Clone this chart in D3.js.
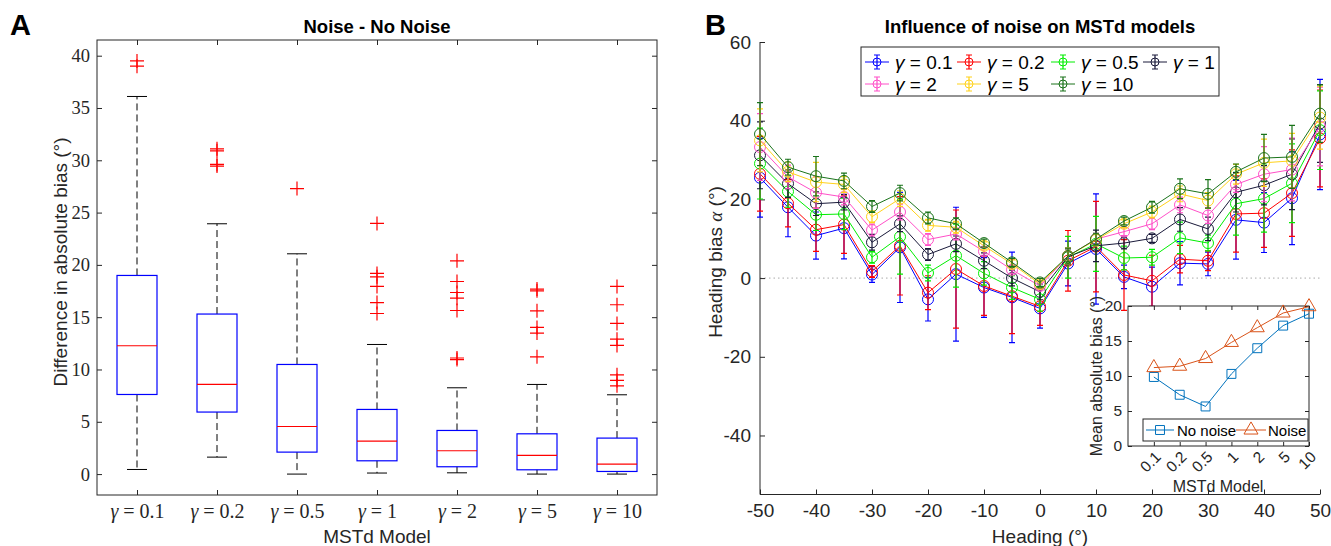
<!DOCTYPE html>
<html>
<head>
<meta charset="utf-8">
<script src="https://cdn.jsdelivr.net/npm/d3@7"></script>
<style>
body{margin:0;background:#fff;}
svg{display:block;font-family:"Liberation Sans",Arial,sans-serif;}
</style>
</head>
<body>
<svg id="chart" width="1331" height="546"></svg>
<script>
// ---- panel A data: box plot stats (noise - no noise)
const models = ["0.1", "0.2", "0.5", "1", "2", "5", "10"];
const boxQ1 = [7.61, 5.93, 2.10, 1.27, 0.70, 0.41, 0.25];
const boxMedian = [12.27, 8.57, 4.55, 3.15, 2.23, 1.78, 0.96];
const boxQ3 = [18.99, 15.30, 10.48, 6.18, 4.17, 3.85, 3.44];
const whiskerLow = [0.44, 1.62, 0.00, 0.10, 0.12, 0.00, 0.00];
const whiskerHigh = [36.10, 23.93, 21.06, 12.39, 8.25, 8.57, 7.58];
const outliers = [
    [39.5, 39.0],
    [31.1, 30.9, 29.6, 29.45],
    [27.3],
    [23.96, 19.18, 18.86, 17.94, 16.4, 15.35],
    [20.39, 18.41, 17.36, 16.82, 15.64, 11.1, 10.95],
    [17.69, 17.52, 15.61, 14.02, 13.48, 11.21],
    [17.94, 16.19, 14.4, 12.9, 12.3, 9.49, 8.95, 8.44]
];
const yTicksA = [0, 5, 10, 15, 20, 25, 30, 35, 40];

// ---- panel B data: heading bias per model
const headings = [-50, -45, -40, -35, -30, -25, -20, -15, -10, -5, 0, 5, 10, 15, 20, 25, 30, 35, 40, 45, 50];
const biasG01 = [25.5, 18.0, 10.8, 12.7, 0.9, 7.8, -5.4, 1.0, -2.4, -4.9, -7.7, 3.7, 7.4, 0.3, -2.2, 3.8, 3.6, 14.8, 14.1, 20.3, 36.5];
const biasG02 = [26.5, 19.0, 12.3, 13.6, 1.7, 8.2, -3.7, 2.3, -2.0, -4.6, -7.2, 4.4, 8.0, 0.8, -0.7, 4.8, 4.4, 16.3, 16.5, 21.6, 35.5];
const biasG05 = [29.1, 22.0, 16.1, 16.3, 5.3, 10.5, 1.3, 5.7, 1.2, -2.4, -5.4, 5.3, 8.7, 5.1, 5.3, 10.2, 8.9, 18.9, 20.2, 24.1, 37.6];
const biasG1 = [31.2, 24.0, 18.9, 19.3, 9.1, 13.8, 6.0, 8.7, 4.4, 0.0, -3.5, 5.4, 8.2, 8.9, 10.1, 14.9, 12.5, 21.8, 23.6, 26.4, 39.3];
const biasG2 = [33.3, 25.7, 21.7, 20.6, 12.2, 16.8, 9.8, 11.2, 6.8, 2.1, -2.0, 5.6, 9.9, 11.8, 13.8, 18.6, 15.9, 23.8, 26.4, 27.6, 38.5];
const biasG5 = [35.0, 27.0, 24.4, 23.8, 15.6, 20.2, 13.4, 12.9, 8.2, 3.6, -1.5, 5.6, 9.7, 13.8, 16.8, 21.4, 19.7, 26.4, 29.3, 29.8, 40.8];
const biasG10 = [36.6, 28.2, 25.9, 24.7, 18.2, 21.6, 15.3, 13.8, 8.9, 4.0, -1.1, 5.6, 9.9, 14.5, 18.0, 22.7, 21.4, 27.0, 30.5, 30.8, 41.8];
const errG01 = [10, 7.5, 6, 7.8, 2, 14, 5.5, 17, 7.6, 11.5, 5, 5.7, 14, 3, 5, 5.5, 3, 10, 7.6, 11.8, 14];
const errG02 = [9.5, 6, 5.5, 7.3, 1.5, 12.5, 4.3, 15, 7.5, 9.5, 4.8, 7.7, 11.5, 9, 6.5, 3.5, 2.5, 9.7, 8.7, 11, 12.3];
const errG05 = [9, 4, 4, 4, 1.5, 9.5, 2, 8, 3, 3, 3, 5.3, 7, 3, 2, 4, 2, 8, 8.5, 10, 10];
const errG1 = [8.5, 3.5, 3, 2, 2, 2, 1.5, 2, 2, 2, 2, 2, 4, 1.5, 1, 3, 3, 5, 5, 9, 9.9];
const errG2 = [8.5, 3, 4, 2, 1.5, 2, 1.5, 1.5, 1, 1, 1, 2, 1.5, 1, 1.5, 2, 2, 2, 7, 8, 10];
const errG5 = [8, 2.5, 5, 2, 1.5, 2, 1.5, 1.5, 1, 1, 1, 2, 1.5, 1, 1.5, 2, 2, 2.5, 6, 7, 8];
const errG10 = [8, 2, 5, 2, 1.5, 2, 1.5, 1.5, 1, 1, 1, 2, 1.5, 1, 1.5, 2.5, 3.6, 2, 6, 8, 7.3];
const xTicksB = [-50, -40, -30, -20, -10, 0, 10, 20, 30, 40, 50];
const yTicksB = [-40, -20, 0, 20, 40, 60];

// ---- inset data: mean absolute bias
const meanNoNoise = [9.86, 7.32, 5.65, 10.3, 13.97, 17.2, 18.9];
const meanNoise = [11.2, 11.4, 12.5, 14.8, 16.9, 19.0, 19.9];
const yTicksInset = [0, 5, 10, 15, 20];

const series = [
    { label: "0.1", color: "#0000ff", bias: biasG01, err: errG01 },
    { label: "0.2", color: "#ff0000", bias: biasG02, err: errG02 },
    { label: "0.5", color: "#00ee00", bias: biasG05, err: errG05 },
    { label: "1", color: "#1a1a3a", bias: biasG1, err: errG1 },
    { label: "2", color: "#ff4fc8", bias: biasG2, err: errG2 },
    { label: "5", color: "#ffd21a", bias: biasG5, err: errG5 },
    { label: "10", color: "#1a731a", bias: biasG10, err: errG10 }
];

const axisColor = "#262626";
const sans = '"Liberation Sans",Arial,sans-serif';
const serif = '"Liberation Serif","DejaVu Serif",serif';
const svg = d3.select("#chart");

function styleAxis(g, fontSize, family) {
    g.select(".domain").remove();
    g.selectAll(".tick line").attr("stroke", axisColor);
    g.selectAll(".tick text").attr("fill", axisColor)
        .style("font-size", fontSize + "px")
        .style("font-family", family);
}

// ================= Panel A =================
const xA = d3.scaleLinear().domain([0.5, 7.5]).range([97, 657]);
const yA = d3.scaleLinear().domain([-2, 41.5]).range([495, 40]);

const gA = svg.append("g");

gA.append("g").attr("transform", "translate(97,0)")
    .call(d3.axisLeft(yA).tickValues(yTicksA).tickSizeInner(-5).tickSizeOuter(0).tickPadding(7))
    .call(g => styleAxis(g, 18.5, serif));
gA.append("g").attr("transform", "translate(657,0)")
    .call(d3.axisRight(yA).tickValues(yTicksA).tickSizeInner(-5).tickSizeOuter(0).tickFormat(""))
    .call(g => styleAxis(g, 18, serif));
gA.append("g").attr("transform", "translate(0,40)")
    .call(d3.axisTop(xA).tickValues(d3.range(1, 8)).tickSizeInner(-5).tickSizeOuter(0).tickFormat(""))
    .call(g => styleAxis(g, 18, serif));
const xAxisA = gA.append("g").attr("transform", "translate(0,495)")
    .call(d3.axisBottom(xA).tickValues(d3.range(1, 8)).tickSizeInner(-5).tickSizeOuter(0).tickFormat(""))
    .call(g => styleAxis(g, 18, serif));
xAxisA.selectAll(".tick").append("text")
    .attr("y", 23).attr("text-anchor", "middle")
    .attr("fill", axisColor)
    .style("font-family", serif).style("font-size", "20px")
    .each(function (d) {
        const t = d3.select(this);
        t.append("tspan").style("font-style", "italic").text("γ");
        t.append("tspan").text(" = " + models[d - 1]);
    });

gA.append("rect").attr("x", 97).attr("y", 40).attr("width", 560).attr("height", 455)
    .attr("fill", "none").attr("stroke", axisColor).attr("stroke-width", 1);

models.forEach((m, i) => {
    const cx = xA(i + 1);
    const half = 20, cap = 10;
    // whiskers
    gA.append("line").attr("x1", cx).attr("x2", cx)
        .attr("y1", yA(boxQ3[i])).attr("y2", yA(whiskerHigh[i]))
        .attr("stroke", "#000").attr("stroke-dasharray", "7,4");
    gA.append("line").attr("x1", cx).attr("x2", cx)
        .attr("y1", yA(boxQ1[i])).attr("y2", yA(whiskerLow[i]))
        .attr("stroke", "#000").attr("stroke-dasharray", "7,4");
    [whiskerHigh[i], whiskerLow[i]].forEach(v => {
        gA.append("line").attr("x1", cx - cap).attr("x2", cx + cap)
            .attr("y1", yA(v)).attr("y2", yA(v)).attr("stroke", "#000");
    });
    // box
    gA.append("rect").attr("x", cx - half).attr("width", 2 * half)
        .attr("y", yA(boxQ3[i])).attr("height", yA(boxQ1[i]) - yA(boxQ3[i]))
        .attr("fill", "none").attr("stroke", "#0000ff").attr("stroke-width", 1.2);
    gA.append("line").attr("x1", cx - half).attr("x2", cx + half)
        .attr("y1", yA(boxMedian[i])).attr("y2", yA(boxMedian[i]))
        .attr("stroke", "#ff0000").attr("stroke-width", 1.2);
    // outliers
    outliers[i].forEach(v => {
        const y = yA(v);
        gA.append("path").attr("d", `M${cx - 7},${y}H${cx + 7}M${cx},${y - 7}V${y + 7}`)
            .attr("stroke", "#ff0000").attr("stroke-width", 1.2).attr("fill", "none");
    });
});

gA.append("text").attr("x", 377).attr("y", 33).attr("text-anchor", "middle")
    .style("font-weight", "bold").style("font-size", "18.5px").attr("fill", "#000")
    .text("Noise - No Noise");
gA.append("text").attr("x", 377).attr("y", 543).attr("text-anchor", "middle")
    .style("font-size", "19px").attr("fill", axisColor).text("MSTd Model");
gA.append("text").attr("transform", "translate(67,262) rotate(-90)").attr("text-anchor", "middle")
    .style("font-size", "19px").attr("fill", axisColor).text("Difference in absolute bias (°)");
svg.append("text").attr("x", 10).attr("y", 35).style("font-weight", "bold")
    .style("font-size", "29px").text("A");

// ================= Panel B =================
const xB = d3.scaleLinear().domain([-50, 50]).range([760, 1320]);
const yB = d3.scaleLinear().domain([-55, 60]).range([494.5, 42]);
const gB = svg.append("g");

gB.append("line").attr("x1", xB(-50)).attr("x2", xB(50)).attr("y1", yB(0)).attr("y2", yB(0))
    .attr("stroke", "#aaaaaa").attr("stroke-dasharray", "1.5,3");

gB.append("g").attr("transform", "translate(760,0)")
    .call(d3.axisLeft(yB).tickValues(yTicksB).tickSizeInner(-5).tickSizeOuter(0).tickPadding(9)
        .tickFormat(d => String(d)))
    .call(g => styleAxis(g, 19, sans));
gB.append("g").attr("transform", "translate(0,494.5)")
    .call(d3.axisBottom(xB).tickValues(xTicksB).tickSizeInner(-5).tickSizeOuter(0).tickPadding(9)
        .tickFormat(d => String(d)))
    .call(g => styleAxis(g, 19, sans));
gB.append("line").attr("x1", 760).attr("x2", 760).attr("y1", 42).attr("y2", 494.5).attr("stroke", axisColor);
gB.append("line").attr("x1", 760).attr("x2", 1320).attr("y1", 494.5).attr("y2", 494.5).attr("stroke", axisColor);

const lineB = d3.line().x((d, i) => xB(headings[i])).y(d => yB(d));
series.forEach(s => {
    const g = gB.append("g");
    s.bias.forEach((v, i) => {
        const x = xB(headings[i]);
        const lo = yB(v - s.err[i]), hi = yB(v + s.err[i]);
        g.append("path").attr("d", `M${x},${lo}V${hi}M${x - 3},${lo}H${x + 3}M${x - 3},${hi}H${x + 3}`)
            .attr("stroke", s.color).attr("stroke-width", 1.2).attr("fill", "none");
    });
    g.append("path").datum(s.bias).attr("d", lineB)
        .attr("fill", "none").attr("stroke", s.color).attr("stroke-width", 1);
    g.selectAll("circle").data(s.bias).enter().append("circle")
        .attr("cx", (d, i) => xB(headings[i])).attr("cy", d => yB(d)).attr("r", 5.5)
        .attr("fill", "none").attr("stroke", s.color).attr("stroke-width", 1);
});

gB.append("text").attr("x", 1040).attr("y", 33).attr("text-anchor", "middle")
    .style("font-weight", "bold").style("font-size", "18.5px").text("Influence of noise on MSTd models");
gB.append("text").attr("x", 1040).attr("y", 543).attr("text-anchor", "middle")
    .style("font-size", "19px").attr("fill", axisColor).text("Heading (°)");
const yLabB = gB.append("text").attr("transform", "translate(722,262) rotate(-90)").attr("text-anchor", "middle")
    .style("font-size", "19px").attr("fill", axisColor);
yLabB.append("tspan").text("Heading bias ");
yLabB.append("tspan").style("font-family", serif).style("font-style", "italic").text("α");
yLabB.append("tspan").text(" (°)");
svg.append("text").attr("x", 705).attr("y", 35).style("font-weight", "bold")
    .style("font-size", "29px").text("B");

// legend B
const legB = gB.append("g");
legB.append("rect").attr("x", 861).attr("y", 47).attr("width", 358).attr("height", 49)
    .attr("fill", "#fff").attr("stroke", axisColor);
const legCols = [865, 957, 1051, 1143];
series.forEach((s, i) => {
    const x0 = legCols[i % 4], y0 = i < 4 ? 62 : 84;
    const cx = x0 + 12;
    legB.append("line").attr("x1", x0).attr("x2", x0 + 24).attr("y1", y0).attr("y2", y0).attr("stroke", s.color);
    legB.append("path").attr("d", `M${cx},${y0 - 7}V${y0 + 7}M${cx - 3},${y0 - 7}H${cx + 3}M${cx - 3},${y0 + 7}H${cx + 3}`)
        .attr("stroke", s.color).attr("stroke-width", 1.2);
    legB.append("circle").attr("cx", cx).attr("cy", y0).attr("r", 4)
        .attr("fill", "none").attr("stroke", s.color);
    const t = legB.append("text").attr("x", x0 + 30).attr("y", y0 + 6.5).style("font-size", "19px").attr("fill", "#000");
    t.append("tspan").style("font-style", "italic").text("γ");
    t.append("tspan").text(" = " + s.label);
});

// ================= Inset =================
const xI = d3.scaleLinear().domain([0, 7]).range([1128, 1309]);
const yI = d3.scaleLinear().domain([0, 20]).range([446, 306]);
const gI = svg.append("g");
gI.append("rect").attr("x", 1128).attr("y", 306).attr("width", 181).attr("height", 140).attr("fill", "#fff");
gI.append("g").attr("transform", "translate(1128,0)")
    .call(d3.axisLeft(yI).tickValues(yTicksInset).tickSizeInner(-4).tickSizeOuter(0).tickPadding(6))
    .call(g => styleAxis(g, 15.5, sans));
gI.append("g").attr("transform", "translate(1309,0)")
    .call(d3.axisRight(yI).tickValues(yTicksInset).tickSizeInner(-4).tickSizeOuter(0).tickFormat(""))
    .call(g => styleAxis(g, 15, sans));
gI.append("g").attr("transform", "translate(0,306)")
    .call(d3.axisTop(xI).tickValues(d3.range(1, 8)).tickSizeInner(-4).tickSizeOuter(0).tickFormat(""))
    .call(g => styleAxis(g, 15, sans));
gI.append("g").attr("transform", "translate(0,446)")
    .call(d3.axisBottom(xI).tickValues(d3.range(1, 8)).tickSizeInner(-4).tickSizeOuter(0).tickFormat(""))
    .call(g => styleAxis(g, 15, sans));
gI.append("rect").attr("x", 1128).attr("y", 306).attr("width", 181).attr("height", 140)
    .attr("fill", "none").attr("stroke", axisColor);
models.forEach((m, i) => {
    gI.append("text").attr("transform", `translate(${xI(i + 1) + 8},${458}) rotate(-45)`)
        .attr("text-anchor", "end").style("font-size", "15.5px").attr("fill", axisColor).text(m);
});

const lineI = d3.line().x((d, i) => xI(i + 1)).y(d => yI(d));
gI.append("path").datum(meanNoNoise).attr("d", lineI).attr("fill", "none").attr("stroke", "#0072BD");
gI.append("path").datum(meanNoise).attr("d", lineI).attr("fill", "none").attr("stroke", "#D95319");
const sq = d3.symbol().type(d3.symbolSquare).size(80);
const tri = d3.symbol().type(d3.symbolTriangle).size(85);
gI.selectAll(".sq").data(meanNoNoise).enter().append("path")
    .attr("d", sq).attr("transform", (d, i) => `translate(${xI(i + 1)},${yI(d)})`)
    .attr("fill", "none").attr("stroke", "#0072BD");
gI.selectAll(".tri").data(meanNoise).enter().append("path")
    .attr("d", tri).attr("transform", (d, i) => `translate(${xI(i + 1)},${yI(d)})`)
    .attr("fill", "none").attr("stroke", "#D95319");

gI.append("text").attr("x", 1218).attr("y", 492).attr("text-anchor", "middle")
    .style("font-size", "16px").attr("fill", axisColor).text("MSTd Model");
gI.append("text").attr("transform", "translate(1102,376) rotate(-90)").attr("text-anchor", "middle")
    .style("font-size", "16px").attr("fill", axisColor).text("Mean absolute bias (°)");

// inset legend
const legI = gI.append("g");
legI.append("rect").attr("x", 1143).attr("y", 419).attr("width", 165).attr("height", 22)
    .attr("fill", "#fff").attr("stroke", axisColor);
legI.append("line").attr("x1", 1146).attr("x2", 1174).attr("y1", 430).attr("y2", 430).attr("stroke", "#0072BD");
legI.append("path").attr("d", sq).attr("transform", "translate(1160,430)").attr("fill", "none").attr("stroke", "#0072BD");
legI.append("text").attr("x", 1177).attr("y", 435.5).style("font-size", "15px").attr("fill", "#000").text("No noise");
legI.append("line").attr("x1", 1236).attr("x2", 1266).attr("y1", 430).attr("y2", 430).attr("stroke", "#D95319");
legI.append("path").attr("d", tri).attr("transform", "translate(1251,430)").attr("fill", "none").attr("stroke", "#D95319");
legI.append("text").attr("x", 1268).attr("y", 435.5).style("font-size", "15px").attr("fill", "#000").text("Noise");
</script>
</body>
</html>
